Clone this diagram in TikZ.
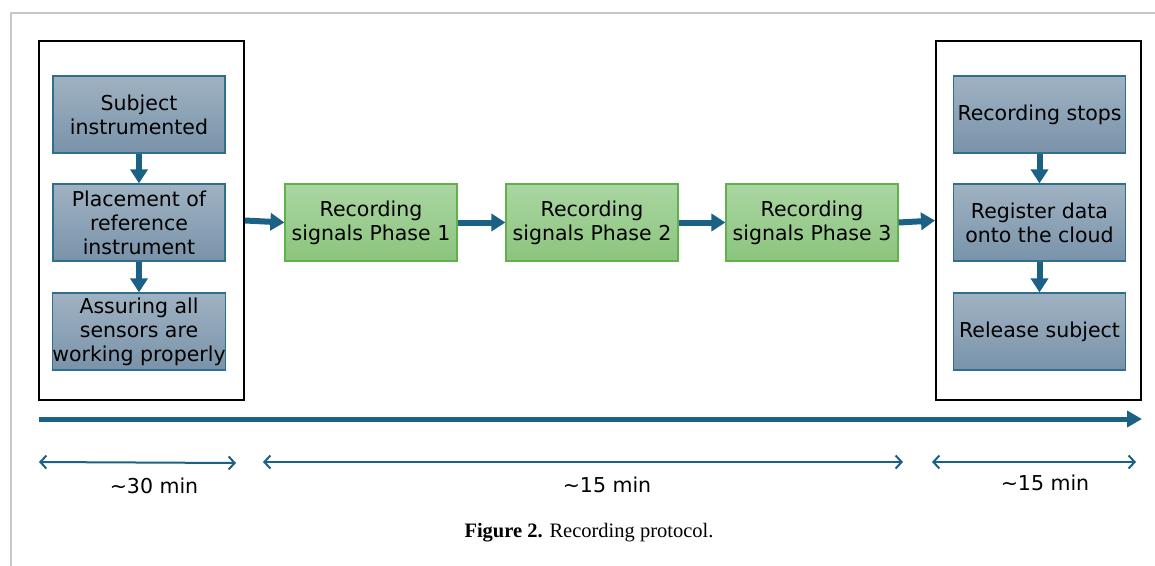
\documentclass[tikz,border=0pt]{standalone}
\usepackage{fontspec}
\setmainfont{Liberation Serif}
\newfontfamily\boxfont{DejaVu Sans}
\usetikzlibrary{arrows.meta}
\definecolor{arrowblue}{RGB}{27,96,133}
\definecolor{bluetop}{RGB}{160,178,194}
\definecolor{bluebot}{RGB}{121,147,170}
\definecolor{blueedge}{RGB}{48,110,142}
\definecolor{greentop}{RGB}{170,214,162}
\definecolor{greenbot}{RGB}{139,196,125}
\definecolor{greenedge}{RGB}{96,176,76}
\definecolor{framegray}{RGB}{200,200,200}
\tikzset{
  txt/.style={font=\boxfont\fontsize{20.5}{24}\selectfont, align=center, text=black},
  bluebox/.style={txt, draw=blueedge, line width=1.2pt, top color=bluetop, bottom color=bluebot,
    minimum width=172pt, minimum height=77pt, inner sep=0pt},
  greenbox/.style={txt, draw=greenedge, line width=1.2pt, top color=greentop, bottom color=greenbot,
    minimum width=172pt, minimum height=77pt, inner sep=0pt},
  groupbox/.style={draw=black, line width=2pt, minimum width=205pt, minimum height=359pt, inner sep=0pt},
  flow/.style={draw=arrowblue, line width=6pt, -{Triangle[length=14pt,width=17pt]}},
  timeline/.style={draw=arrowblue, line width=5pt, -{Triangle[length=15pt,width=16pt]}},
  span/.style={draw=arrowblue, line width=2pt, {Straight Barb[length=6pt,width=13pt]}-{Straight Barb[length=6pt,width=13pt]}},
  durlabel/.style={font=\boxfont\fontsize{20.5}{24}\selectfont, inner sep=0pt}
}
\begin{document}
\begin{tikzpicture}[x=1pt,y=-1pt]
\useasboundingbox (0,0) rectangle (1155,565);
% page frame
\draw[framegray, line width=1.5pt] (11,566) -- (11,13) -- (1156,13);
% group boxes
\node[groupbox] (L) at (141.5,220.5) {};
\node[groupbox] (R) at (1038.5,220.5) {};
% left steps
\node[bluebox] (a1) at (139,114.5) {Subject\\instrumented};
\node[bluebox] (a2) at (139,222.5) {Placement of\\reference\\instrument};
\node[bluebox] (a3) at (139,331.5) {Assuring all\\sensors are\\working properly};
% phases
\node[greenbox] (g1) at (371,222.5) {Recording\\signals Phase 1};
\node[greenbox] (g2) at (592,222.5) {Recording\\signals Phase 2};
\node[greenbox] (g3) at (812,222.5) {Recording\\signals Phase 3};
% right steps
\node[bluebox] (b1) at (1039.5,114.5) {Recording stops};
\node[bluebox] (b2) at (1039.5,222.5) {Register data\\onto the cloud};
\node[bluebox] (b3) at (1039.5,331.5) {Release subject};
% flow arrows
\draw[flow] (a1) -- (a2);
\draw[flow] (a2) -- (a3);
\draw[flow] (b1) -- (b2);
\draw[flow] (b2) -- (b3);
\draw[flow] (L.east) -- (g1.west);
\draw[flow] (g1) -- (g2);
\draw[flow] (g2) -- (g3);
\draw[flow] (g3.east) -- (R.west);
% timeline
\coordinate (t0) at (39,419);
\coordinate (t1) at (1142,419);
\draw[timeline] (t0) -- (t1);
% spans
\coordinate (s1a) at (39,462);
\coordinate (s1b) at (236,463);
\coordinate (s2a) at (263,462);
\coordinate (s2b) at (903,462);
\coordinate (s3a) at (932,462);
\coordinate (s3b) at (1136,462);
\draw[span] (s1a) -- (s1b);
\draw[span] (s2a) -- (s2b);
\draw[span] (s3a) -- (s3b);
\node[durlabel] (d1) at (154,486) {\textasciitilde30 min};
\node[durlabel] (d2) at (607,485) {\textasciitilde15 min};
\node[durlabel] (d3) at (1045,483) {\textasciitilde15 min};
% caption
\node[font=\fontsize{20.5}{24}\selectfont, inner sep=0pt] (cap) at (589,533) {\textbf{Figure 2.} Recording protocol.};
\end{tikzpicture}
\end{document}
